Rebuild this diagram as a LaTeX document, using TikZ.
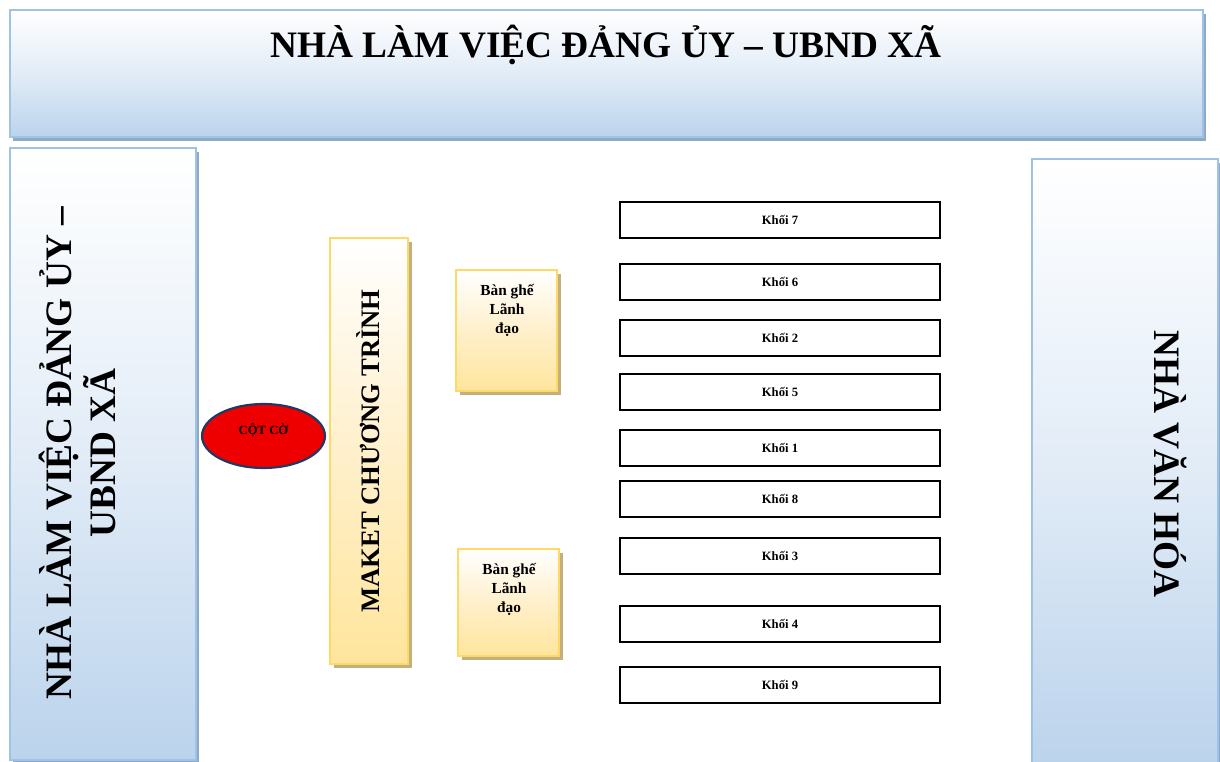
\documentclass[tikz,border=0pt]{standalone}
\usepackage{fontspec}
\setmainfont{Liberation Serif}
\usetikzlibrary{shadows,shapes.geometric}
\definecolor{bluebd}{HTML}{9DC3E6}
\definecolor{bluebot}{HTML}{BBD3EC}
\definecolor{bluemid}{HTML}{E2ECF7}
\definecolor{shblue}{HTML}{8FA9C6}
\definecolor{goldbd}{HTML}{FFD966}
\definecolor{goldbot}{HTML}{FFE59C}
\definecolor{goldmid}{HTML}{FFF0CC}
\definecolor{shgold}{HTML}{C4B07C}
\definecolor{navy}{HTML}{1F3864}
\definecolor{flagred}{HTML}{EE0000}
\tikzset{
  bluebox/.style={draw=bluebd, line width=2.2pt, top color=white, bottom color=bluebot, middle color=bluemid,
    drop shadow={shadow xshift=2.5pt, shadow yshift=-3.2pt, fill=shblue, opacity=1}, inner sep=0pt},
  goldbox/.style={draw=goldbd, line width=2.2pt, top color=white, bottom color=goldbot, middle color=goldmid,
    drop shadow={shadow xshift=3pt, shadow yshift=-3pt, fill=shgold, opacity=1}, inner sep=0pt},
  khoi/.style={draw=black, line width=1.8pt, fill=white, minimum width=240pt, minimum height=27pt,
    inner sep=0pt, font=\bfseries\fontsize{9.5}{10}\selectfont},
  bigtext/.style={font=\bfseries\fontsize{28}{33}\selectfont, align=center, inner sep=0pt},
  bantext/.style={font=\bfseries\fontsize{11.5}{14.25}\selectfont, align=center, inner sep=0pt},
  flag/.style={ellipse, draw=navy, line width=1.6pt, fill=flagred, minimum width=92.25pt, minimum height=48pt,
    inner sep=0pt}
}
\begin{document}
\begin{tikzpicture}[x=0.75pt,y=-0.75pt]
\useasboundingbox (0,0) rectangle (1220,762);
\fill[white] (0,0) rectangle (1220,762);

% top building
\node[bluebox, minimum width=894.75pt, minimum height=95.25pt] (top) at (606.5,73.5) {};
\node[bigtext] (toptext) at (606,45) {NHÀ LÀM VIỆC ĐẢNG ỦY – UBND XÃ};

% left building
\node[bluebox, minimum width=139.5pt, minimum height=459pt] (left) at (103,454) {};
\node[bigtext, rotate=90] (lefttext) at (77,453) {NHÀ LÀM VIỆC ĐẢNG ỦY –\\UBND XÃ};

% right building
\node[bluebox, minimum width=139.5pt, minimum height=456pt] (right) at (1125,463) {};
\node[bigtext, rotate=-90] (righttext) at (1170,464) {NHÀ VĂN HÓA};

% flag pole
\node[flag] (cotco) at (263.5,436) {};
\node[font=\bfseries\fontsize{9.5}{11}\selectfont, inner sep=0pt] (cotcotext) at (263.5,430) {CỘT CỜ};

% maket
\node[goldbox, minimum width=58.5pt, minimum height=319.5pt] (maket) at (369,451) {};
\node[font=\bfseries\fontsize{20}{24}\selectfont, rotate=90, inner sep=0pt] (makettext) at (368,451) {MAKET CHƯƠNG TRÌNH};

% leaders' seats
\node[goldbox, minimum width=75.75pt, minimum height=90.75pt] (ban1) at (506.5,330.5) {};
\node[bantext] (ban1text) at (507,310) {Bàn ghế\\Lãnh\\đạo};
\node[goldbox, minimum width=75.75pt, minimum height=80.25pt] (ban2) at (508.5,602.5) {};
\node[bantext] (ban2text) at (509,589) {Bàn ghế\\Lãnh\\đạo};

% blocks
\node[khoi] (k7) at (780,220) {Khối 7};
\node[khoi] (k6) at (780,282) {Khối 6};
\node[khoi] (k2) at (780,338) {Khối 2};
\node[khoi] (k5) at (780,392) {Khối 5};
\node[khoi] (k1) at (780,448) {Khối 1};
\node[khoi] (k8) at (780,499) {Khối 8};
\node[khoi] (k3) at (780,556) {Khối 3};
\node[khoi] (k4) at (780,624) {Khối 4};
\node[khoi] (k9) at (780,685) {Khối 9};
\end{tikzpicture}
\end{document}
